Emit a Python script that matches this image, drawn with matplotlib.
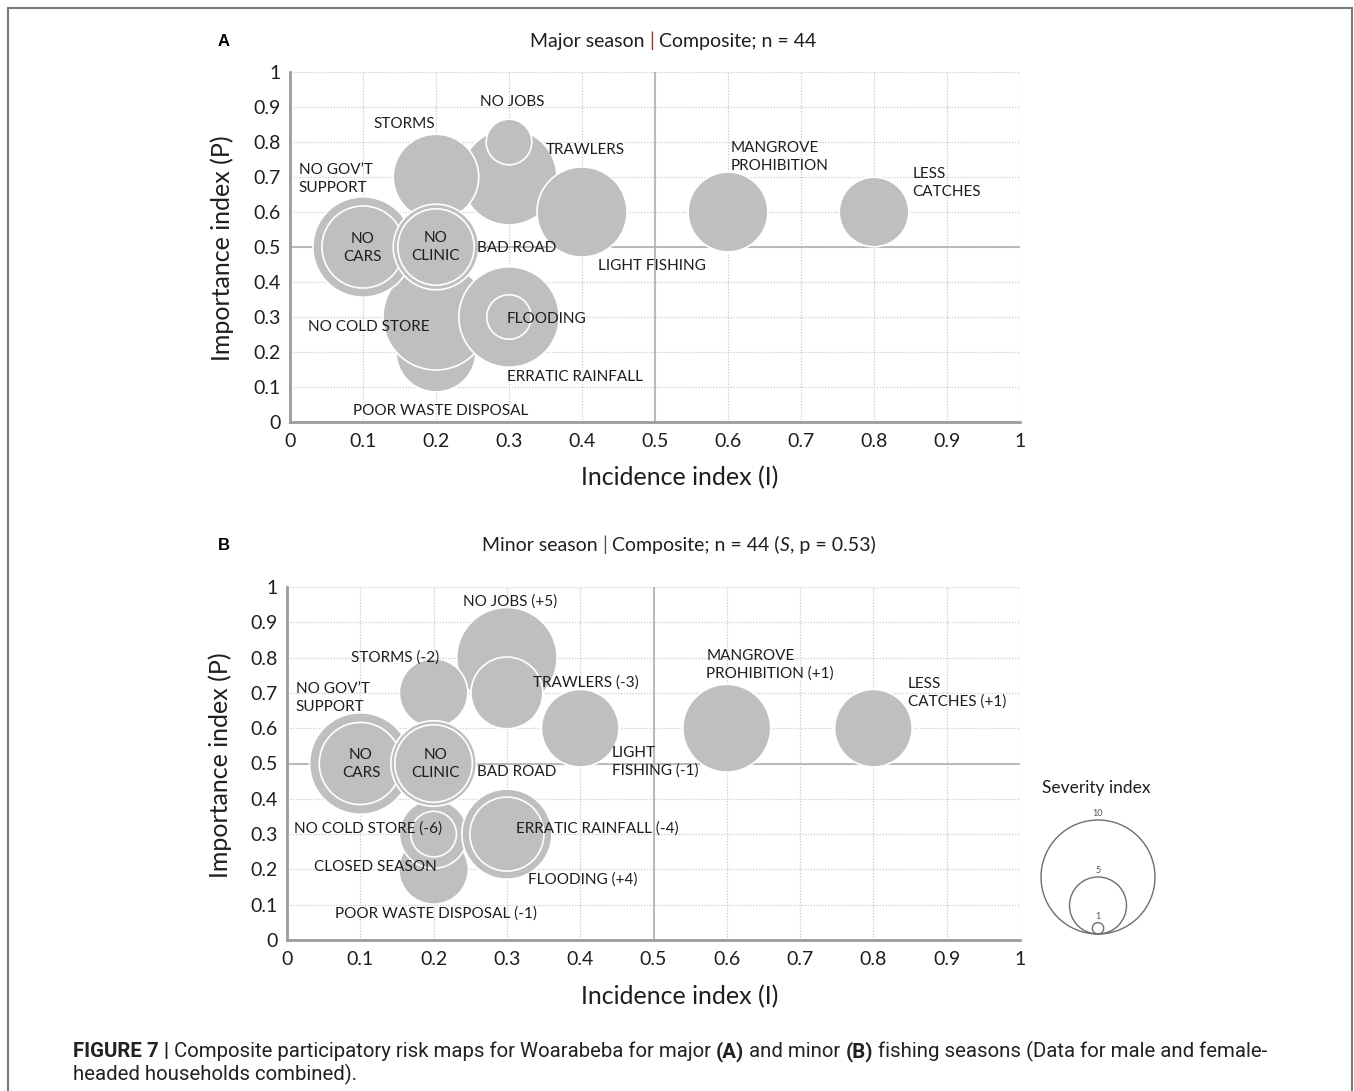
import matplotlib
matplotlib.use("Agg")
import matplotlib.pyplot as plt
from matplotlib.lines import Line2D
from matplotlib.patches import Circle

# ------------------------------------------------------------------ data
TICKS = [0, 0.1, 0.2, 0.3, 0.4, 0.5, 0.6, 0.7, 0.8, 0.9, 1.0]
TICK_LABELS = ["0", "0.1", "0.2", "0.3", "0.4", "0.5", "0.6", "0.7", "0.8", "0.9", "1"]

# Panel A (major season) -- listed in drawing order
A_RISKS = ["POOR WASTE DISPOSAL", "NO COLD STORE", "ERRATIC RAINFALL", "FLOODING",
           "NO GOV'T SUPPORT", "NO CARS", "TRAWLERS", "NO JOBS", "STORMS",
           "BAD ROAD", "NO CLINIC", "LIGHT FISHING", "MANGROVE PROHIBITION", "LESS CATCHES"]
A_INCIDENCE = [0.2, 0.2, 0.3, 0.3, 0.1, 0.1, 0.3, 0.3, 0.2, 0.2, 0.2, 0.4, 0.6, 0.8]
A_IMPORTANCE = [0.2, 0.3, 0.3, 0.3, 0.5, 0.5, 0.7, 0.8, 0.7, 0.5, 0.5, 0.6, 0.6, 0.6]
A_SEVERITY = [7.0, 9.3, 8.8, 3.9, 8.8, 7.2, 8.4, 4.0, 7.5, 7.5, 6.7, 7.9, 7.0, 6.1]

# Panel B (minor season) -- listed in drawing order
B_RISKS = ["CLOSED SEASON", "POOR WASTE DISPOSAL", "NO COLD STORE", "FLOODING",
           "ERRATIC RAINFALL", "NO GOV'T SUPPORT", "NO CARS", "NO JOBS", "TRAWLERS",
           "STORMS", "BAD ROAD", "NO CLINIC", "LIGHT FISHING", "MANGROVE PROHIBITION",
           "LESS CATCHES"]
B_INCIDENCE = [0.2, 0.2, 0.2, 0.3, 0.3, 0.1, 0.1, 0.3, 0.3, 0.2, 0.2, 0.2, 0.4, 0.6, 0.8]
B_IMPORTANCE = [0.2, 0.3, 0.3, 0.3, 0.3, 0.5, 0.5, 0.8, 0.7, 0.7, 0.5, 0.5, 0.6, 0.6, 0.6]
B_SEVERITY = [6.1, 6.0, 4.0, 7.9, 6.5, 8.9, 7.2, 8.8, 6.3, 6.0, 7.5, 6.8, 6.8, 7.7, 6.8]

LEGEND_VALUES = [10, 5, 1]
LEGEND_TITLE = "Severity index"

# text labels of the two maps: text, x, y, horizontal alignment
A_LABELS = [
    ("NO JOBS", 0.305, 0.914, "center"),
    ("STORMS", 0.157, 0.851, "center"),
    ("TRAWLERS", 0.404, 0.777, "center"),
    ("NO GOV\u2019T\nSUPPORT", 0.012, 0.694, "left"),
    ("NO\nCARS", 0.100, 0.497, "center"),
    ("NO\nCLINIC", 0.200, 0.500, "center"),
    ("BAD ROAD", 0.311, 0.497, "center"),
    ("LIGHT FISHING", 0.496, 0.446, "center"),
    ("NO COLD STORE", 0.108, 0.271, "center"),
    ("FLOODING", 0.352, 0.294, "center"),
    ("ERRATIC RAINFALL", 0.390, 0.129, "center"),
    ("POOR WASTE DISPOSAL", 0.207, 0.031, "center"),
    ("MANGROVE\nPROHIBITION", 0.603, 0.757, "left"),
    ("LESS\nCATCHES", 0.853, 0.683, "left"),
]
B_LABELS = [
    ("NO JOBS (+5)", 0.304, 0.960, "center"),
    ("STORMS (-2)", 0.147, 0.799, "center"),
    ("TRAWLERS (-3)", 0.408, 0.728, "center"),
    ("NO GOV\u2019T\nSUPPORT", 0.012, 0.685, "left"),
    ("NO\nCARS", 0.101, 0.499, "center"),
    ("NO\nCLINIC", 0.203, 0.499, "center"),
    ("BAD ROAD", 0.313, 0.476, "center"),
    ("LIGHT\nFISHING (-1)", 0.443, 0.505, "left"),
    ("NO COLD STORE (-6)", 0.111, 0.317, "center"),
    ("ERRATIC RAINFALL (-4)", 0.424, 0.317, "center"),
    ("CLOSED SEASON", 0.121, 0.207, "center"),
    ("FLOODING (+4)", 0.404, 0.170, "center"),
    ("POOR WASTE DISPOSAL (-1)", 0.203, 0.074, "center"),
    ("MANGROVE\nPROHIBITION (+1)", 0.572, 0.779, "left"),
    ("LESS\nCATCHES (+1)", 0.847, 0.700, "left"),
]

X_LABEL = "Incidence index (I)"
Y_LABEL = "Importance index (P)"

# ------------------------------------------------------------------ style
W, H = 1354, 1091
FONT = ["Lato", "DejaVu Sans"]
CAP_FONT = ["Roboto", "DejaVu Sans"]
FILL = "#BFBFBF"
TXT = "#1E1E1E"
R_UNIT = 5.7          # bubble radius in pixels per severity unit

plt.rcParams["font.family"] = FONT

fig = plt.figure(figsize=(W / 100, H / 100), dpi=100)
fig.patch.set_facecolor("white")
renderer = fig.canvas.get_renderer()


def fx(px):
    return px / W


def fy(py):
    return 1 - py / H


def rich(x_px, y_px, pieces, size, family, color=TXT):
    """Draw a line of text made of several styled pieces (text, kwargs, space_after)."""
    t1 = fig.text(0, 0, "a a", fontsize=size, family=family)
    t2 = fig.text(0, 0, "aa", fontsize=size, family=family)
    sp = t1.get_window_extent(renderer).width - t2.get_window_extent(renderer).width
    t1.remove()
    t2.remove()
    x = x_px
    for txt, kw, space in pieces:
        kw = dict(kw)
        t = fig.text(fx(x), fy(y_px), txt, fontsize=size, family=family,
                     va="baseline", ha="left", color=kw.pop("color", color), **kw)
        x += t.get_window_extent(renderer).width + (sp if space else 0)


def bubble_panel(rect_px, inc, imp, sev, labels):
    left, top, right, bottom = rect_px
    ax = fig.add_axes([fx(left), fy(bottom), (right - left) / W, (bottom - top) / H])
    ax.set_xlim(0, 1)
    ax.set_ylim(0, 1)
    ax.set_facecolor("white")
    for v in TICKS[1:]:
        ax.axhline(v, color="#C9C9C9", lw=0.9, ls=(0, (1, 1.3)), zorder=0)
        ax.axvline(v, color="#C9C9C9", lw=0.9, ls=(0, (1, 1.3)), zorder=0)
    ax.axhline(0.5, color="#B5B5B5", lw=1.3, zorder=1)
    ax.axvline(0.5, color="#B5B5B5", lw=1.3, zorder=1)
    for s in ("top", "right"):
        ax.spines[s].set_visible(False)
    for s in ("left", "bottom"):
        ax.spines[s].set_color("#9C9C9C")
        ax.spines[s].set_linewidth(2.0)
    ax.set_xticks(TICKS)
    ax.set_xticklabels(TICK_LABELS)
    ax.set_yticks(TICKS)
    ax.set_yticklabels(TICK_LABELS)
    ax.tick_params(axis="both", length=0, labelsize=14, labelcolor=TXT)
    ax.tick_params(axis="x", pad=8)
    ax.tick_params(axis="y", pad=7)
    sizes = [(1.44 * R_UNIT * s) ** 2 for s in sev]
    ax.scatter(inc, imp, s=sizes, c=FILL, edgecolors="white", linewidths=1.2,
               zorder=3, clip_on=False)
    for txt, x, y, ha in labels:
        ax.text(x, y, txt, ha=ha, va="center", multialignment=ha, fontsize=11,
                color=TXT, linespacing=1.35, zorder=5)
    return ax


axA = bubble_panel((290, 72, 1020, 422), A_INCIDENCE, A_IMPORTANCE, A_SEVERITY, A_LABELS)
axB = bubble_panel((287, 587, 1020, 940), B_INCIDENCE, B_IMPORTANCE, B_SEVERITY, B_LABELS)

# axis titles
for (xl, yl) in (((680, 478), (222, 248)), ((680, 997), (220, 765))):
    fig.text(fx(xl[0]), fy(xl[1]), X_LABEL, ha="center", va="center", fontsize=18, color=TXT)
    fig.text(fx(yl[0]), fy(yl[1]), Y_LABEL, ha="center", va="center", fontsize=18,
             color=TXT, rotation=90)

# panel letters
fig.text(fx(218), fy(42), "A", fontsize=12, fontweight="bold", family=["Liberation Sans"],
         ha="left", va="center", color="black")
fig.text(fx(218), fy(545), "B", fontsize=12, fontweight="bold", family=["Liberation Sans"],
         ha="left", va="center", color="black")

# panel titles
rich(530, 47, [("Major season", {}, True), ("|", {"color": "#8B3A2E"}, True),
               ("Composite; n = 44", {}, False)], 14, FONT)
rich(482, 551, [("Minor season", {}, True), ("|", {"color": "#555555"}, True),
                ("Composite; n = 44 (", {}, False), ("S", {"style": "italic"}, False),
                (", p = 0.53)", {}, False)], 14, FONT)

# severity legend (drawn in a pixel-scaled inset)
lx0, lx1, ly0, ly1 = 1030, 1166, 795, 945
axL = fig.add_axes([fx(lx0), fy(ly1), (lx1 - lx0) / W, (ly1 - ly0) / H])
axL.set_xlim(lx0, lx1)
axL.set_ylim(ly1, ly0)
axL.axis("off")
base_x, base_y = 1098, 934
for v in LEGEND_VALUES:
    r = R_UNIT * v
    axL.add_patch(Circle((base_x, base_y - r), r, fill=False, ec="#6E6E6E", lw=1.0))
    axL.text(base_x, base_y - 2 * r - 2, str(v), ha="center", va="bottom",
             fontsize=6.5, color="#555555")
fig.text(fx(1096), fy(788), LEGEND_TITLE, ha="center", va="center", fontsize=12.5, color=TXT)

# outer frame
fc = "#7A7A7A"
fig.add_artist(Line2D([fx(8), fx(1352)], [fy(8), fy(8)], transform=fig.transFigure, color=fc, lw=1.5))
fig.add_artist(Line2D([fx(8), fx(8)], [fy(8), 0], transform=fig.transFigure, color=fc, lw=1.5))
fig.add_artist(Line2D([fx(1352), fx(1352)], [fy(8), 0], transform=fig.transFigure, color=fc, lw=1.5))

# caption
rich(73, 1057, [("FIGURE 7 |", {"fontweight": "bold"}, True),
                ("Composite participatory risk maps for Woarabeba for major", {}, True),
                ("(A)", {"fontweight": "bold"}, True),
                ("and minor", {}, True),
                ("(B)", {"fontweight": "bold"}, True),
                ("fishing seasons (Data for male and female-", {}, False)], 14.7, CAP_FONT, "#222222")
rich(73, 1080, [("headed households combined).", {}, False)], 14.7, CAP_FONT, "#222222")

fig.savefig("out.png", dpi=100, facecolor="white")
